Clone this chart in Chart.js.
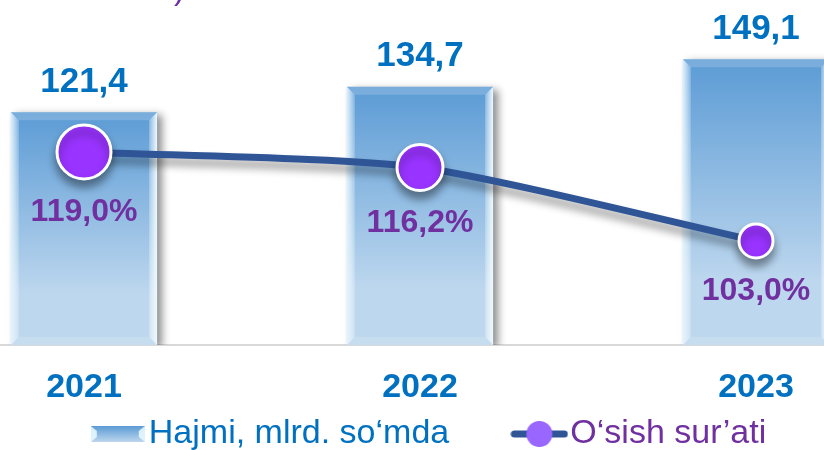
<!DOCTYPE html>
<html>
<head>
<meta charset="utf-8">
<script src="https://cdn.jsdelivr.net/npm/chart.js@4.4.1/dist/chart.umd.min.js"></script>
<style>
html, body { margin: 0; padding: 0; background: #fff; width: 824px; height: 450px; overflow: hidden; }
#wrap { position: absolute; left: -84px; top: 0; }
canvas { display: block; }
</style>
</head>
<body>
<div id="wrap"><canvas id="chart" width="1038" height="461"></canvas></div>
<script>
const years = ["2021", "2022", "2023"];
const volume = [121.4, 134.7, 149.1];
const growth = [119.0, 116.2, 103.0];
const seriesNames = ["Hajmi, mlrd. so‘mda", "O‘sish sur’ati"];

const FONT = '"Liberation Sans", Arial, sans-serif';
const BLUE = "#0070C0";
const PURPLE = "#7030A0";

Chart.defaults.font.family = FONT;

function fmt(v){
    return v.toFixed(1).replace(".", ",");
}

function barFill(context){
    const chart = context.chart;
    if(!chart.chartArea || context.type !== "data"){
        return "#9DC3E6";
    }
    const yScale = chart.scales.y;
    const top = yScale.getPixelForValue(context.raw);
    const bottom = yScale.getPixelForValue(0);
    const g = chart.ctx.createLinearGradient(0, top, 0, bottom);
    g.addColorStop(0, "#5B9BD5");
    g.addColorStop(0.78, "#BDD7EE");
    g.addColorStop(1, "#BDD7EE");
    return g;
}

function poly(ctx, pts){
    ctx.beginPath();
    ctx.moveTo(pts[0][0], pts[0][1]);
    for(let i = 1; i < pts.length; i++){
        ctx.lineTo(pts[i][0], pts[i][1]);
    }
    ctx.closePath();
    ctx.fill();
}

function drawBevel(ctx, bar){
    const half = bar.width / 2;
    const l = bar.x - half, r = bar.x + half, t = bar.y, b = bar.base;
    const e = 8;

    let g = ctx.createLinearGradient(l, 0, l + e, 0);
    g.addColorStop(0, "rgba(225,245,255,0.95)");
    g.addColorStop(1, "rgba(255,255,255,0.2)");
    ctx.fillStyle = g;
    poly(ctx, [[l, t], [l + e, t + e], [l + e, b - e], [l, b]]);

    g = ctx.createLinearGradient(r, 0, r - e, 0);
    g.addColorStop(0, "rgba(235,250,255,1)");
    g.addColorStop(1, "rgba(255,255,255,0.25)");
    ctx.fillStyle = g;
    poly(ctx, [[r, t], [r - e, t + e], [r - e, b - e], [r, b]]);

    ctx.fillStyle = "rgba(255,255,255,0.18)";
    poly(ctx, [[l, t], [r, t], [r - e, t + e], [l + e, t + e]]);

    ctx.fillStyle = "rgba(255,255,255,0.15)";
    poly(ctx, [[l, b], [r, b], [r - e, b - e], [l + e, b - e]]);
}

// legend icons
function barIcon(){
    const c = document.createElement("canvas");
    c.width = 54; c.height = 16;
    const g = c.getContext("2d");
    const lg = g.createLinearGradient(0, 0, 0, 16);
    lg.addColorStop(0, "#5B9BD5");
    lg.addColorStop(1, "#BDD7EE");
    g.fillStyle = lg;
    g.fillRect(0, 0, 54, 16);
    g.fillStyle = "rgba(230,248,255,0.9)";
    poly(g, [[0, 0], [6, 5], [6, 11], [0, 16]]);
    poly(g, [[54, 0], [48, 5], [48, 11], [54, 16]]);
    return c;
}

function lineIcon(){
    const c = document.createElement("canvas");
    c.width = 58; c.height = 28;
    const g = c.getContext("2d");
    g.strokeStyle = "#2F5597";
    g.lineWidth = 7;
    g.lineCap = "round";
    g.beginPath();
    g.moveTo(4, 14);
    g.lineTo(54, 14);
    g.stroke();
    g.fillStyle = "#9966FF";
    g.beginPath();
    g.arc(29, 14, 13, 0, Math.PI * 2);
    g.fill();
    return c;
}

const shadowPlugin = {
    id: "shadows",
    beforeDatasetDraw(chart, args){
        const ctx = chart.ctx;
        ctx.save();
        if(args.index === 0){
            ctx.shadowColor = "rgba(0,0,0,0.45)";
            ctx.shadowBlur = 8;
            ctx.shadowOffsetX = 5;
            ctx.shadowOffsetY = 3;
        } else {
            ctx.shadowColor = "rgba(0,0,0,0.4)";
            ctx.shadowBlur = 9;
            ctx.shadowOffsetX = 0;
            ctx.shadowOffsetY = 7;
        }
    },
    afterDatasetDraw(chart, args){
        const ctx = chart.ctx;
        ctx.restore();
        if(args.index === 0){
            ctx.save();
            args.meta.data.forEach(bar => drawBevel(ctx, bar));
            ctx.restore();
        }
    }
};

const labelPlugin = {
    id: "valueLabels",
    afterDatasetsDraw(chart){
        const ctx = chart.ctx;
        ctx.save();
        ctx.textAlign = "center";
        ctx.textBaseline = "middle";

        ctx.font = "bold 35px " + FONT;
        ctx.fillStyle = BLUE;
        chart.getDatasetMeta(0).data.forEach((bar, i) => {
            ctx.fillText(fmt(volume[i]), bar.x, bar.y - 30);
        });

        ctx.font = "bold 32px " + FONT;
        ctx.fillStyle = PURPLE;
        chart.getDatasetMeta(1).data.forEach((pt, i) => {
            ctx.fillText(fmt(growth[i]) + "%", pt.x, pt.y + pt.options.radius + 33);
        });

        // tail of the cut-off title above the chart
        ctx.textAlign = "left";
        ctx.textBaseline = "alphabetic";
        ctx.font = "32px " + FONT;
        ctx.fillText(")", 258, -1);
        ctx.restore();
    }
};

new Chart(document.getElementById("chart"), {

    data: {
        labels: years,
        datasets: [
            {
                type: "bar",
                label: seriesNames[0],
                data: volume,
                yAxisID: "y",
                order: 1,
                backgroundColor: barFill,
                borderWidth: 0,
                barPercentage: 0.435,
                categoryPercentage: 1
            },
            {
                type: "line",
                label: seriesNames[1],
                data: growth,
                yAxisID: "y2",
                order: 0,
                borderColor: "#2F5597",
                borderWidth: 7,
                tension: 0.22,
                pointRadius: [27, 23, 17],
                pointBackgroundColor: "#9933FF",
                pointBorderColor: "#FFFFFF",
                pointBorderWidth: 3
            }
        ]
    },

    options: {
        responsive: false,
        animation: false,
        events: [],
        layout: { padding: 0, autoPadding: false },
        scales: {
            x: {
                offset: true,
                grid: { display: false, drawTicks: false },
                border: { display: true, color: "#D9D9D9", width: 2 },
                ticks: {
                    color: BLUE,
                    padding: 22,
                    font: { size: 34, weight: "bold" }
                },
                afterFit: s => { s.height = 62; }
            },
            y: {
                display: false,
                min: 0,
                max: 180
            },
            y2: {
                position: "right",
                min: 84.3,
                max: 146.3,
                grid: { display: false, drawTicks: false },
                border: { display: false },
                ticks: { display: false },
                afterFit: s => { s.width = 30; }
            }
        },
        plugins: {
            tooltip: { enabled: false },
            legend: {
                position: "bottom",
                labels: {
                    usePointStyle: true,
                    pointStyleWidth: 28,
                    padding: 10,
                    font: { size: 34 },
                    generateLabels: () => [
                        {
                            text: seriesNames[0] + "       ",
                            fontColor: BLUE,
                            pointStyle: barIcon(),
                            fillStyle: "transparent",
                            strokeStyle: "transparent",
                            lineWidth: 0,
                            hidden: false,
                            datasetIndex: 0
                        },
                        {
                            text: seriesNames[1],
                            fontColor: PURPLE,
                            pointStyle: lineIcon(),
                            fillStyle: "transparent",
                            strokeStyle: "transparent",
                            lineWidth: 0,
                            hidden: false,
                            datasetIndex: 1
                        }
                    ]
                }
            }
        }
    },

    plugins: [shadowPlugin, labelPlugin]

});
</script>
</body>
</html>
